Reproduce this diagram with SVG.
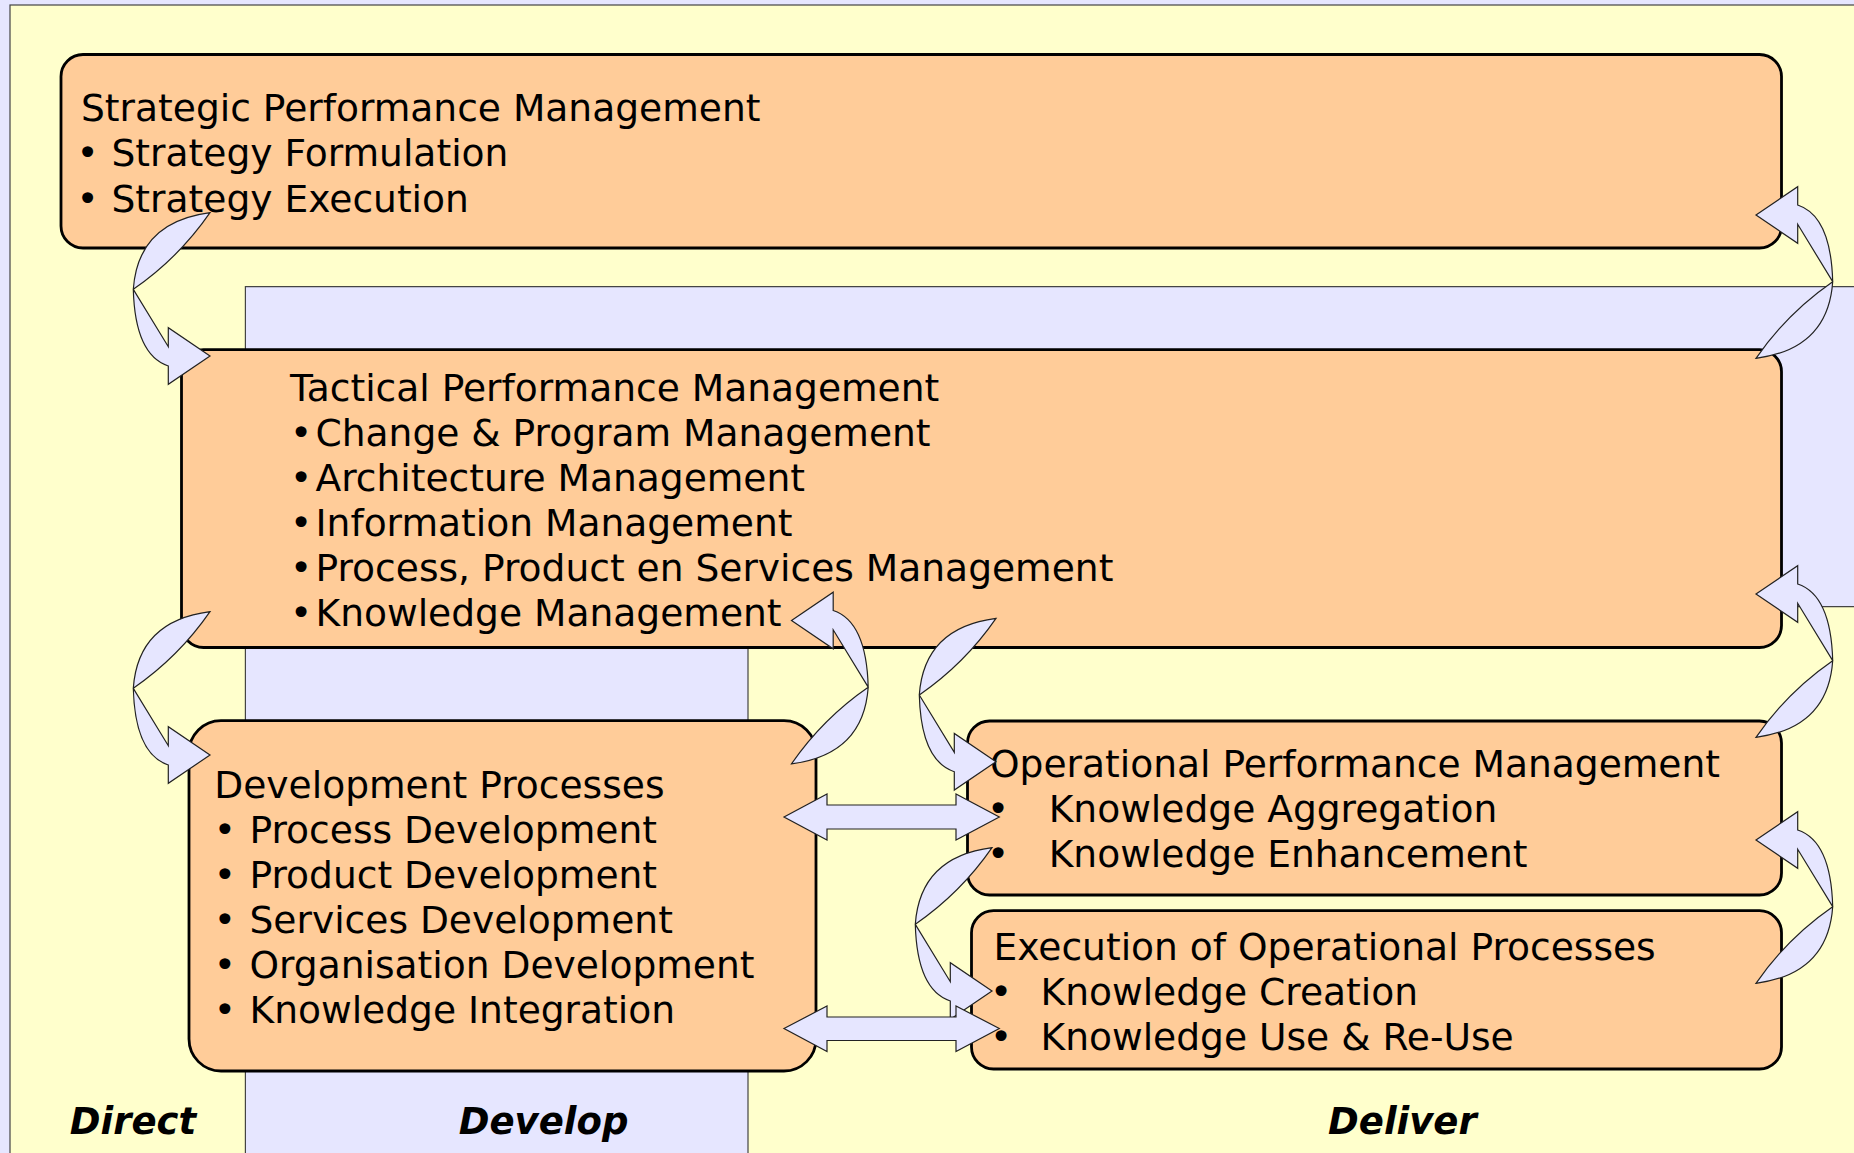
<svg xmlns="http://www.w3.org/2000/svg" xmlns:xlink="http://www.w3.org/1999/xlink" width="1854" height="1153" viewBox="0 0 1854 1153">
<style>
.box{fill:#FFCC99;stroke:#000;stroke-width:2.8}
.t{font-family:"DejaVu Sans",Verdana,sans-serif;font-size:37.6px;fill:#000}
.lbl{font-family:"DejaVu Sans",Verdana,sans-serif;font-size:37px;font-weight:bold;font-style:italic;fill:#000;text-anchor:middle}
.arr{fill:#E6E6FF;stroke:#222;stroke-width:1.2;stroke-linejoin:miter}
</style>
<defs>
<path id="ca" d="M210,212.7 Q138,222 133.3,289.3 Q135,355 168.3,366 L168.3,384.3 L210,356 L168.3,327.7 L168.3,346.7 L133.3,289.3 Q178.7,258 210,212.7 Z"/>
</defs>
<g id="background">
<rect x="0" y="0" width="1854" height="1153" fill="#E6E6FF"/>
<rect x="10" y="5" width="1850" height="1155" fill="#FFFFCC" stroke="#444" stroke-width="1.2"/>
<path d="M245.4,286.6 H1860 V606.7 H748 V1160 H245.4 Z" fill="#E6E6FF" stroke="#444" stroke-width="1.2"/>
</g>
<g id="strategic">
<rect class="box" x="61" y="54.5" width="1720.5" height="193.5" rx="22"/>
<text class="t"><tspan x="81" y="121">Strategic Performance Management</tspan><tspan x="76.6" y="166.3">•</tspan><tspan x="111.5" y="166.3">Strategy Formulation</tspan><tspan x="76.6" y="211.5">•</tspan><tspan x="111.5" y="211.5">Strategy Execution</tspan></text>
</g>
<g id="tactical">
<rect class="box" x="181.5" y="349.7" width="1600" height="297.8" rx="22"/>
<text class="t"><tspan x="290" y="401">Tactical Performance Management</tspan><tspan x="290" y="446">•</tspan><tspan x="315.5" y="446">Change &amp; Program Management</tspan><tspan x="290" y="491">•</tspan><tspan x="315.5" y="491">Architecture Management</tspan><tspan x="290" y="535.8">•</tspan><tspan x="315.5" y="535.8">Information Management</tspan><tspan x="290" y="580.7">•</tspan><tspan x="315.5" y="580.7">Process, Product en Services Management</tspan><tspan x="290" y="625.6">•</tspan><tspan x="315.5" y="625.6">Knowledge Management</tspan></text>
</g>
<g id="development">
<rect class="box" x="189" y="720.6" width="627" height="350.4" rx="32"/>
<text class="t"><tspan x="214.3" y="798">Development Processes</tspan><tspan x="213.8" y="843">•</tspan><tspan x="249.5" y="843">Process Development</tspan><tspan x="213.8" y="888">•</tspan><tspan x="249.5" y="888">Product Development</tspan><tspan x="213.8" y="933">•</tspan><tspan x="249.5" y="933">Services Development</tspan><tspan x="213.8" y="978">•</tspan><tspan x="249.5" y="978">Organisation Development</tspan><tspan x="213.8" y="1023">•</tspan><tspan x="249.5" y="1023">Knowledge Integration</tspan></text>
</g>
<g id="operational">
<rect class="box" x="967.5" y="721" width="814" height="174" rx="22"/>
<text class="t"><tspan x="990" y="777">Operational Performance Management</tspan><tspan x="987" y="821.5">•</tspan><tspan x="1048.7" y="821.5">Knowledge Aggregation</tspan><tspan x="987" y="867">•</tspan><tspan x="1048.7" y="867">Knowledge Enhancement</tspan></text>
</g>
<g id="execution">
<rect class="box" x="971.5" y="910.7" width="810" height="158.3" rx="22"/>
<text class="t"><tspan x="993.5" y="960">Execution of Operational Processes</tspan><tspan x="990" y="1005.2">•</tspan><tspan x="1040.5" y="1005.2">Knowledge Creation</tspan><tspan x="990" y="1049.5">•</tspan><tspan x="1040.5" y="1049.5">Knowledge Use &amp; Re-Use</tspan></text>
</g>
<g id="labels">
<text class="lbl" x="133" y="1134">Direct</text>
<text class="lbl" x="543.6" y="1134">Develop</text>
<text class="lbl" x="1402.4" y="1134">Deliver</text>
</g>
<g id="connectors">
<use xlink:href="#ca" class="arr"/>
<use xlink:href="#ca" class="arr" transform="translate(0,399)"/>
<use xlink:href="#ca" class="arr" transform="translate(786,405.7)"/>
<use xlink:href="#ca" class="arr" transform="translate(782,635)"/>
<use xlink:href="#ca" class="arr" transform="translate(1966,571) scale(-1,-1)"/>
<use xlink:href="#ca" class="arr" transform="translate(1966,950) scale(-1,-1)"/>
<use xlink:href="#ca" class="arr" transform="translate(1966,1196) scale(-1,-1)"/>
<use xlink:href="#ca" class="arr" transform="translate(1001.5,976.5) scale(-1,-1)"/>
<path class="arr" d="M784,817 L827,794 L827,805 L956,805 L956,794 L999.3,817 L956,840 L956,829 L827,829 L827,840 Z"/>
<path class="arr" d="M784,1028.5 L827,1006 L827,1017 L956,1017 L956,1006 L999.3,1028.5 L956,1051.5 L956,1040.5 L827,1040.5 L827,1051.5 Z"/>
</g>
</svg>
